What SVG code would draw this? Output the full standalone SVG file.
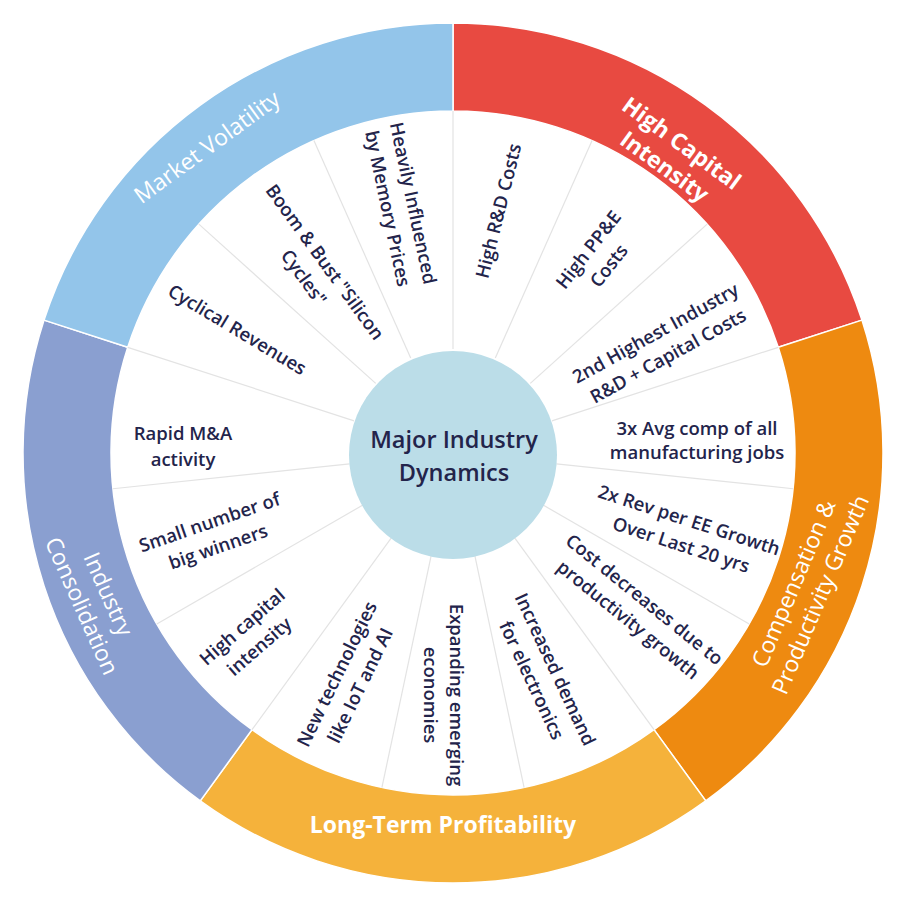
<svg xmlns="http://www.w3.org/2000/svg" width="906" height="911" viewBox="0 0 906 911">
<style>
.band{stroke:#ffffff;stroke-width:1.5}
.spoke{stroke:#e3e3e3;stroke-width:1.2}
.item{font-family:"Open Sans","Liberation Sans",sans-serif;font-size:18.5px;font-weight:600;fill:#23244b;text-anchor:middle}
.title{font-family:"Open Sans","Liberation Sans",sans-serif;font-size:23px;font-weight:400;fill:#ffffff;text-anchor:middle}
.bold{font-weight:700}
.center{font-family:"Open Sans","Liberation Sans",sans-serif;font-size:23.5px;font-weight:600;fill:#23244b;text-anchor:middle}
</style>
<rect width="906" height="911" fill="#ffffff"/>
<g id="bands">
<path id="band-high-capital" class="band" fill="#e84a41" d="M 453 23 A 430 430 0 0 1 861.95 320.12 L 778.26 347.32 A 342 342 0 0 0 453 111 Z"/>
<path id="band-compensation" class="band" fill="#ee8a10" d="M 861.95 320.12 A 430 430 0 0 1 705.75 800.88 L 654.02 729.68 A 342 342 0 0 0 778.26 347.32 Z"/>
<path id="band-long-term" class="band" fill="#f5b23b" d="M 705.75 800.88 A 430 430 0 0 1 200.25 800.88 L 251.98 729.68 A 342 342 0 0 0 654.02 729.68 Z"/>
<path id="band-consolidation" class="band" fill="#8a9fd0" d="M 200.25 800.88 A 430 430 0 0 1 44.05 320.12 L 127.74 347.32 A 342 342 0 0 0 251.98 729.68 Z"/>
<path id="band-volatility" class="band" fill="#93c5ea" d="M 44.05 320.12 A 430 430 0 0 1 453 23 L 453 111 A 342 342 0 0 0 127.74 347.32 Z"/>
</g>
<g id="connectors">
<line class="spoke" x1="453" y1="349" x2="453" y2="111"/>
<line class="spoke" x1="495.30" y1="357.99" x2="592.10" y2="140.57"/>
<line class="spoke" x1="530.29" y1="383.41" x2="707.16" y2="224.16"/>
<line class="spoke" x1="551.91" y1="420.86" x2="778.26" y2="347.32"/>
<line class="spoke" x1="556.43" y1="463.87" x2="793.13" y2="488.75"/>
<line class="spoke" x1="543.07" y1="505" x2="749.18" y2="624"/>
<line class="spoke" x1="514.13" y1="537.14" x2="654.02" y2="729.68"/>
<line class="spoke" x1="474.62" y1="554.73" x2="524.11" y2="787.53"/>
<line class="spoke" x1="431.38" y1="554.73" x2="381.89" y2="787.53"/>
<line class="spoke" x1="391.87" y1="537.14" x2="251.98" y2="729.68"/>
<line class="spoke" x1="362.93" y1="505" x2="156.82" y2="624"/>
<line class="spoke" x1="349.57" y1="463.87" x2="112.87" y2="488.75"/>
<line class="spoke" x1="354.09" y1="420.86" x2="127.74" y2="347.32"/>
<line class="spoke" x1="375.71" y1="383.41" x2="198.84" y2="224.16"/>
<line class="spoke" x1="410.70" y1="357.99" x2="313.90" y2="140.57"/>
</g>
<g id="hub">
<circle cx="453" cy="455" r="104" fill="#bbdde8"/>
<text class="center" x="454" y="448">Major Industry</text>
<text class="center" x="454" y="481">Dynamics</text>
</g>
<g id="title-volatility" transform="translate(207 147) rotate(-36)"><text class="title" x="0" y="8">Market Volatility</text></g>
<g id="title-high-capital" transform="translate(673 155) rotate(36)"><text class="title bold" x="0" y="-6.5">High Capital</text><text class="title bold" x="0" y="22.5">Intensity</text></g>
<g id="title-compensation" transform="translate(807 589) rotate(-67)"><text class="title" x="0" y="-6.5">Compensation &amp;</text><text class="title" x="0" y="22.5">Productivity Growth</text></g>
<g id="title-long-term"><text class="title bold" x="443" y="833">Long-Term Profitability</text></g>
<g id="title-consolidation" transform="translate(95 600) rotate(66)"><text class="title" x="0" y="-6.5">Industry</text><text class="title" x="0" y="22.5">Consolidation</text></g>
<g id="item-high-rd" transform="translate(499 211) rotate(-76)"><text class="item" x="0" y="6">High R&amp;D Costs</text></g>
<g id="item-high-ppe" transform="translate(599 258) rotate(-52)"><text class="item" x="0" y="-7">High PP&amp;E</text><text class="item" x="0" y="19">Costs</text></g>
<g id="item-2nd-highest" transform="translate(662 345) rotate(-29)"><text class="item" x="0" y="-7">2nd Highest Industry</text><text class="item" x="0" y="19">R&amp;D + Capital Costs</text></g>
<g id="item-3x-avg"><text class="item" x="697" y="435">3x Avg comp of all</text><text class="item" x="697" y="459">manufacturing jobs</text></g>
<g id="item-2x-rev" transform="translate(685 533) rotate(18)"><text class="item" x="0" y="-7">2x Rev per EE Growth</text><text class="item" x="0" y="19">Over Last 20 yrs</text></g>
<g id="item-cost-decreases" transform="translate(636 610) rotate(39)"><text class="item" x="0" y="-7">Cost decreases due to</text><text class="item" x="0" y="19">productivity growth</text></g>
<g id="item-increased-demand" transform="translate(543 675) rotate(65)"><text class="item" x="0" y="-7">Increased demand</text><text class="item" x="0" y="19">for electronics</text></g>
<g id="item-expanding" transform="translate(443 695) rotate(90)"><text class="item" x="0" y="-7">Expanding emerging</text><text class="item" x="0" y="19">economies</text></g>
<g id="item-new-tech" transform="translate(349 680) rotate(-64)"><text class="item" x="0" y="-7">New technologies</text><text class="item" x="0" y="19">like IoT and AI</text></g>
<g id="item-high-capital" transform="translate(251 637) rotate(-41)"><text class="item" x="0" y="-7">High capital</text><text class="item" x="0" y="19">intensity</text></g>
<g id="item-small-number" transform="translate(214 535) rotate(-19)"><text class="item" x="0" y="-7">Small number of</text><text class="item" x="0" y="19">big winners</text></g>
<g id="item-rapid-ma"><text class="item" x="183" y="440">Rapid M&amp;A</text><text class="item" x="183" y="466">activity</text></g>
<g id="item-cyclical" transform="translate(237 330) rotate(31)"><text class="item" x="0" y="6">Cyclical Revenues</text></g>
<g id="item-boom-bust" transform="translate(314 270) rotate(54)"><text class="item" x="0" y="-7">Boom &amp; Bust "Silicon</text><text class="item" x="0" y="19">Cycles"</text></g>
<g id="item-heavily" transform="translate(400 206) rotate(78)"><text class="item" x="0" y="-7">Heavily Influenced</text><text class="item" x="0" y="19">by Memory Prices</text></g>
</svg>
